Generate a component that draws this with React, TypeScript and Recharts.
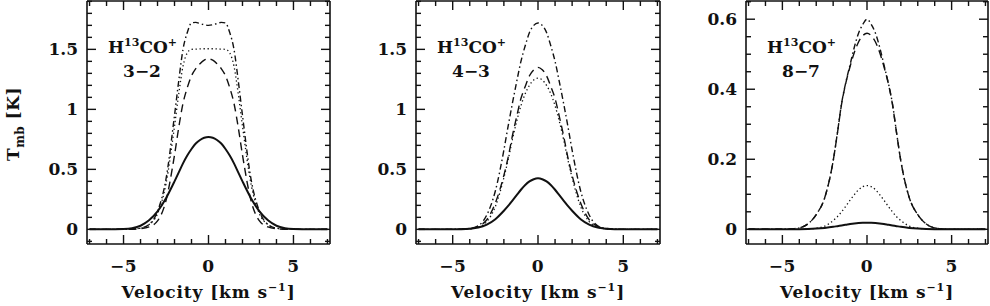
import React from 'react';
import { LineChart, Line, XAxis, YAxis } from 'recharts';

// ---------- data ----------
const velocity = [-7, -6, -5, -4.5, -4, -3.5, -3, -2.5, -2, -1.75, -1.5, -1.25, -1, -0.75, -0.5, -0.25, 0, 0.25, 0.5, 0.75, 1, 1.25, 1.5, 1.75, 2, 2.5, 3, 3.5, 4, 4.5, 5, 6, 7];

const p32Solid = [0, 0, 0.003, 0.01, 0.03, 0.075, 0.15, 0.26, 0.40, 0.475, 0.55, 0.615, 0.67, 0.715, 0.745, 0.764, 0.77, 0.764, 0.745, 0.715, 0.67, 0.615, 0.55, 0.475, 0.40, 0.26, 0.15, 0.075, 0.03, 0.01, 0.003, 0, 0];
const p32Dashed = [0, 0, 0, 0.001, 0.005, 0.02, 0.07, 0.24, 0.62, 0.85, 1.05, 1.18, 1.28, 1.34, 1.38, 1.41, 1.42, 1.41, 1.38, 1.34, 1.28, 1.18, 1.05, 0.85, 0.62, 0.24, 0.07, 0.02, 0.005, 0.001, 0, 0, 0];
const p32Dotted = [0, 0, 0.001, 0.003, 0.01, 0.04, 0.13, 0.38, 0.86, 1.13, 1.36, 1.47, 1.50, 1.502, 1.504, 1.505, 1.505, 1.505, 1.504, 1.502, 1.50, 1.47, 1.36, 1.13, 0.86, 0.38, 0.13, 0.04, 0.01, 0.003, 0.001, 0, 0];
const p32DashDot = [0, 0, 0.001, 0.003, 0.01, 0.04, 0.15, 0.42, 0.95, 1.24, 1.50, 1.64, 1.72, 1.725, 1.715, 1.705, 1.70, 1.705, 1.715, 1.725, 1.72, 1.64, 1.50, 1.24, 0.95, 0.42, 0.15, 0.04, 0.01, 0.003, 0.001, 0, 0];

const p43Solid = [0, 0, 0, 0.001, 0.005, 0.015, 0.04, 0.085, 0.155, 0.195, 0.24, 0.285, 0.33, 0.37, 0.40, 0.418, 0.425, 0.418, 0.40, 0.37, 0.33, 0.285, 0.24, 0.195, 0.155, 0.085, 0.04, 0.015, 0.005, 0.001, 0, 0, 0];
const p43Dashed = [0, 0, 0, 0.001, 0.006, 0.025, 0.08, 0.22, 0.45, 0.60, 0.78, 0.94, 1.09, 1.19, 1.28, 1.33, 1.35, 1.33, 1.28, 1.19, 1.09, 0.94, 0.78, 0.60, 0.45, 0.22, 0.08, 0.025, 0.006, 0.001, 0, 0, 0];
const p43Dotted = [0, 0, 0, 0.001, 0.004, 0.018, 0.065, 0.19, 0.43, 0.58, 0.75, 0.90, 1.03, 1.13, 1.20, 1.245, 1.26, 1.245, 1.20, 1.13, 1.03, 0.90, 0.75, 0.58, 0.43, 0.19, 0.065, 0.018, 0.004, 0.001, 0, 0, 0];
const p43DashDot = [0, 0, 0, 0.002, 0.008, 0.03, 0.12, 0.32, 0.66, 0.86, 1.05, 1.23, 1.40, 1.53, 1.64, 1.70, 1.72, 1.70, 1.64, 1.53, 1.40, 1.23, 1.05, 0.86, 0.66, 0.32, 0.12, 0.03, 0.008, 0.002, 0, 0, 0];

const p87Solid = [0, 0, 0, 0, 0.0002, 0.0008, 0.002, 0.004, 0.007, 0.009, 0.011, 0.013, 0.015, 0.0167, 0.018, 0.0188, 0.019, 0.0188, 0.018, 0.0167, 0.015, 0.013, 0.011, 0.009, 0.007, 0.004, 0.002, 0.0008, 0.0002, 0, 0, 0, 0];
const p87Dashed = [0, 0, 0, 0.001, 0.004, 0.015, 0.042, 0.09, 0.195, 0.274, 0.358, 0.418, 0.465, 0.505, 0.535, 0.553, 0.56, 0.553, 0.535, 0.505, 0.465, 0.418, 0.358, 0.274, 0.195, 0.09, 0.042, 0.015, 0.004, 0.001, 0, 0, 0];
const p87Dotted = [0, 0, 0, 0, 0, 0.001, 0.003, 0.009, 0.025, 0.036, 0.050, 0.066, 0.083, 0.099, 0.113, 0.122, 0.125, 0.122, 0.113, 0.099, 0.083, 0.066, 0.050, 0.036, 0.025, 0.009, 0.003, 0.001, 0, 0, 0, 0, 0];
const p87DashDot = [0, 0, 0, 0.001, 0.004, 0.015, 0.042, 0.09, 0.195, 0.275, 0.36, 0.42, 0.47, 0.52, 0.56, 0.585, 0.60, 0.585, 0.56, 0.52, 0.47, 0.42, 0.36, 0.275, 0.195, 0.09, 0.042, 0.015, 0.004, 0.001, 0, 0, 0];

const xTicks = [-7, -6, -5, -4, -3, -2, -1, 0, 1, 2, 3, 4, 5, 6, 7];
const yTicksK = [-0.1, 0, 0.1, 0.2, 0.3, 0.4, 0.5, 0.6, 0.7, 0.8, 0.9, 1, 1.1, 1.2, 1.3, 1.4, 1.5, 1.6, 1.7, 1.8, 1.9];
const yTicksSmall = [0, 0.05, 0.1, 0.15, 0.2, 0.25, 0.3, 0.35, 0.4, 0.45, 0.5, 0.55, 0.6, 0.65];

const lineNames = ['3\u22122', '4\u22123', '8\u22127'];

// ---------- style ----------
const FONT = '"DejaVu Serif", serif';
const INK = '#111';
const H = 306;
const PLOT_TOP = 1;
const PLOT_BOTTOM = 244;

type PanelCfg = {
  left: number;
  width: number;
  axisL: number;
  axisR: number;
  yDomain: [number, number];
  yTicks: number[];
  majorStep: number;
  solid: number[];
  dashed: number[];
  dotted: number[];
  dashDot: number[];
  name: string;
};

const panels: PanelCfg[] = [
  { left: 0, width: 340, axisL: 87, axisR: 10, yDomain: [-0.122, 1.903], yTicks: yTicksK, majorStep: 0.5, solid: p32Solid, dashed: p32Dashed, dotted: p32Dotted, dashDot: p32DashDot, name: lineNames[0] },
  { left: 340, width: 330, axisL: 76, axisR: 10, yDomain: [-0.122, 1.903], yTicks: yTicksK, majorStep: 0.5, solid: p43Solid, dashed: p43Dashed, dotted: p43Dotted, dashDot: p43DashDot, name: lineNames[1] },
  { left: 660, width: 330, axisL: 86, axisR: 2, yDomain: [-0.042, 0.652], yTicks: yTicksSmall, majorStep: 0.2, solid: p87Solid, dashed: p87Dashed, dotted: p87Dotted, dashDot: p87DashDot, name: lineNames[2] },
];

const isMajor = (v: number, step: number) => Math.abs(v / step - Math.round(v / step)) < 1e-6;
const fmt = (v: number) => {
  const s = String(Number(v.toFixed(2)));
  return s.startsWith('-') ? '\u2212' + s.slice(1) : s;
};

function makeXTick(pos: 'bottom' | 'top') {
  return (props: any) => {
    const { x, payload } = props;
    const v = payload.value as number;
    const major = isMajor(v, 5);
    const len = major ? 9 : 5;
    const y0 = pos === 'bottom' ? PLOT_BOTTOM : PLOT_TOP;
    const y1 = pos === 'bottom' ? y0 - len : y0 + len;
    return (
      <g>
        <line x1={x} x2={x} y1={y0} y2={y1} stroke={INK} strokeWidth={1.4} />
        {pos === 'bottom' && major ? (
          <text x={x} y={272} textAnchor="middle" fontFamily={FONT} fontWeight="bold" fontSize={17} letterSpacing={0.5} fill={INK}>
            {fmt(v)}
          </text>
        ) : null}
      </g>
    );
  };
}

function makeYTick(side: 'left' | 'right', x0: number, step: number) {
  return (props: any) => {
    const { y, payload } = props;
    const v = payload.value as number;
    const major = isMajor(v, step);
    const len = major ? 9 : 5;
    const x1 = side === 'left' ? x0 + len : x0 - len;
    return (
      <g>
        <line x1={x0} x2={x1} y1={y} y2={y} stroke={INK} strokeWidth={1.4} />
        {side === 'left' && major ? (
          <text x={x0 - 9} y={y + 6} textAnchor="end" fontFamily={FONT} fontWeight="bold" fontSize={17} fill={INK}>
            {fmt(v)}
          </text>
        ) : null}
      </g>
    );
  };
}

function Panel({ cfg }: { cfg: PanelCfg }) {
  const data = velocity.map((v, i) => ({
    v,
    solid: cfg.solid[i],
    dashed: cfg.dashed[i],
    dotted: cfg.dotted[i],
    dashDot: cfg.dashDot[i],
  }));
  const plotRight = cfg.width - cfg.axisR;
  const axisLine = { stroke: INK, strokeWidth: 1.6 };
  const xDomain: [number, number] = [-7.15, 7.15];
  return (
    <div style={{ position: 'absolute', left: cfg.left, top: 0, width: cfg.width, height: H }}>
      <LineChart width={cfg.width} height={H} data={data} margin={{ top: 0, right: 0, bottom: 0, left: 0 }}>
        <XAxis xAxisId="b" dataKey="v" type="number" domain={xDomain} ticks={xTicks} interval={0} orientation="bottom" height={H - PLOT_BOTTOM} tickSize={0} tickMargin={0} axisLine={axisLine} tickLine={false} tick={makeXTick('bottom')} allowDataOverflow />
        <XAxis xAxisId="t" dataKey="v" type="number" domain={xDomain} ticks={xTicks} interval={0} orientation="top" height={PLOT_TOP} tickSize={0} tickMargin={0} axisLine={axisLine} tickLine={false} tick={makeXTick('top')} allowDataOverflow />
        <YAxis yAxisId="l" type="number" domain={cfg.yDomain} ticks={cfg.yTicks} interval={0} orientation="left" width={cfg.axisL} tickSize={0} tickMargin={0} axisLine={axisLine} tickLine={false} tick={makeYTick('left', cfg.axisL, cfg.majorStep)} allowDataOverflow />
        <YAxis yAxisId="r" type="number" domain={cfg.yDomain} ticks={cfg.yTicks} interval={0} orientation="right" width={cfg.axisR} tickSize={0} tickMargin={0} axisLine={axisLine} tickLine={false} tick={makeYTick('right', plotRight, cfg.majorStep)} allowDataOverflow />
        <Line xAxisId="b" yAxisId="l" dataKey="solid" type="monotone" stroke={INK} strokeWidth={2} dot={false} isAnimationActive={false} />
        <Line xAxisId="b" yAxisId="l" dataKey="dashed" type="monotone" stroke={INK} strokeWidth={1.4} strokeDasharray="8 5" dot={false} isAnimationActive={false} />
        <Line xAxisId="b" yAxisId="l" dataKey="dotted" type="monotone" stroke={INK} strokeWidth={1.3} strokeDasharray="1.3 2.7" dot={false} isAnimationActive={false} />
        <Line xAxisId="b" yAxisId="l" dataKey="dashDot" type="monotone" stroke={INK} strokeWidth={1.4} strokeDasharray="6 3 1.5 3" dot={false} isAnimationActive={false} />
      </LineChart>
    </div>
  );
}

export default function App() {
  return (
    <div style={{ position: 'absolute', left: 0, top: 0, width: 990, height: H, background: '#fff', overflow: 'hidden' }}>
      {panels.map((p, i) => (
        <Panel key={i} cfg={p} />
      ))}
      <svg width={990} height={H} style={{ position: 'absolute', left: 0, top: 0, pointerEvents: 'none' }}>
        <text transform="translate(19,124) rotate(-90)" textAnchor="middle" fontFamily={FONT} fontWeight="bold" fontSize={17} letterSpacing={0.5} fill={INK}>
          T<tspan dy={5} fontSize={12}>mb</tspan>
          <tspan dy={-5}> [K]</tspan>
        </text>
        {panels.map((p, i) => {
          const pl = p.left + p.axisL;
          const pr = p.left + p.width - p.axisR;
          const cx = (pl + pr) / 2;
          return (
            <g key={i} fontFamily={FONT} fontWeight="bold" fill={INK}>
              <text x={pl + 21} y={53} fontSize={17}>
                H<tspan dy={-7} fontSize={11}>13</tspan>
                <tspan dy={7} fontSize={17}>CO</tspan>
                <tspan dy={-7} fontSize={11}>+</tspan>
              </text>
              <text x={pl + 55} y={77} fontSize={17} textAnchor="middle">
                {p.name}
              </text>
              <text x={cx} y={298} fontSize={17} textAnchor="middle" letterSpacing={0.9}>
                Velocity [km s<tspan dy={-7} fontSize={11}>{'\u22121'}</tspan>
                <tspan dy={7}>]</tspan>
              </text>
            </g>
          );
        })}
      </svg>
    </div>
  );
}
